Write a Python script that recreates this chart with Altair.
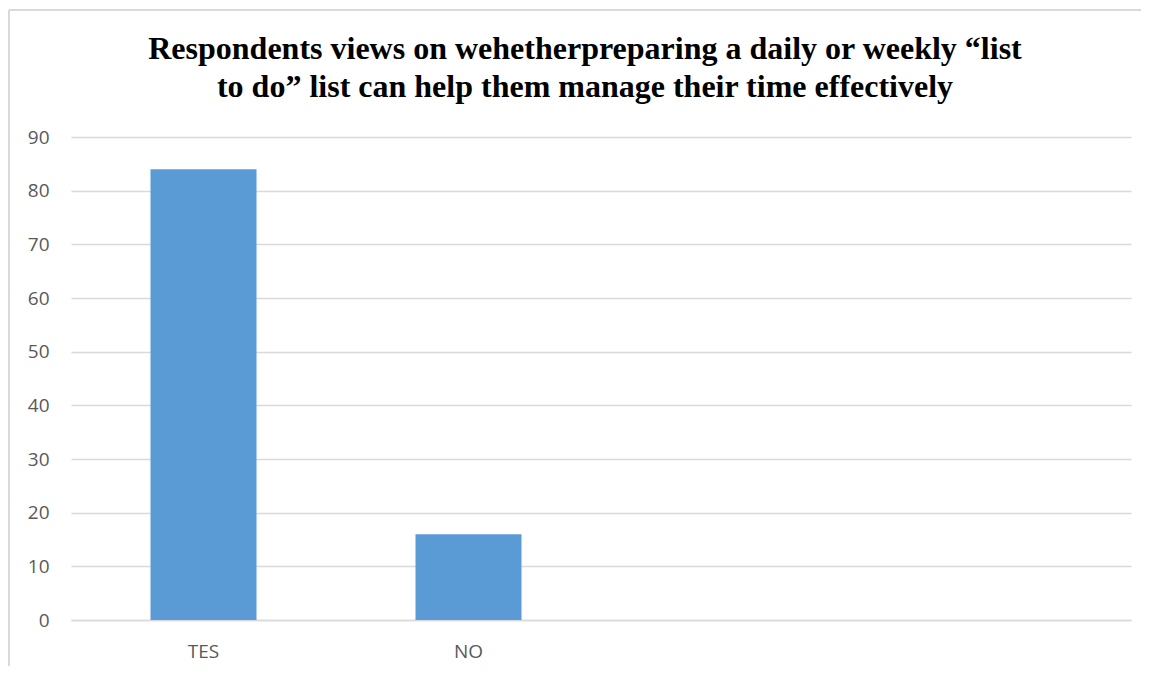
import altair as alt
import pandas as pd

categories = ["TES", "NO", " ", "  "]
values = [84, 16, None, None]
title_lines = [
    "Respondents views on wehetherpreparing a daily or weekly \u201clist",
    "to do\u201d list can help them manage their time effectively",
]

df = pd.DataFrame({"cat": categories, "val": values})

W, H = 1060, 483

bars = alt.Chart(df).mark_bar(color="#5b9bd5").encode(
    x=alt.X("cat:N", sort=categories,
            scale=alt.Scale(domain=categories, paddingInner=0.6, paddingOuter=0.3),
            axis=alt.Axis(title=None, labelAngle=0, ticks=False, domain=True,
                          domainColor="#d9d9d9", domainWidth=1.5,
                          labelFont="Open Sans", labelFontSize=19, labelColor="#595959",
                          labelPadding=22)),
    y=alt.Y("val:Q", scale=alt.Scale(domain=[0, 90]),
            axis=alt.Axis(title=None, values=list(range(0, 91, 10)), ticks=False,
                          domain=False, grid=True, gridColor="#d9d9d9", gridWidth=1.5,
                          labelFont="Open Sans", labelFontSize=19, labelColor="#595959",
                          labelPadding=22)),
)

border_v = alt.Chart(df).mark_rule(color="#d9d9d9", strokeWidth=1.5).encode(
    x=alt.value(-62), y=alt.value(-127), y2=alt.value(H + 60))
border_h = alt.Chart(df).mark_rule(color="#d9d9d9", strokeWidth=1.5).encode(
    x=alt.value(-62), x2=alt.value(W + 20), y=alt.value(-127))

chart = alt.layer(bars, border_v, border_h).properties(
    width=W, height=H,
    autosize=alt.AutoSizeParams(type="none"),
    padding={"left": 63, "top": 129, "right": 10, "bottom": 46},
    title=alt.TitleParams(title_lines, font="Liberation Serif", fontSize=32,
                          fontWeight="bold", color="black", anchor="middle",
                          dx=-16, offset=-95, lineHeight=38),
).configure_view(stroke=None)

chart.save("out.html", embed_options={"renderer": "svg", "actions": False})
